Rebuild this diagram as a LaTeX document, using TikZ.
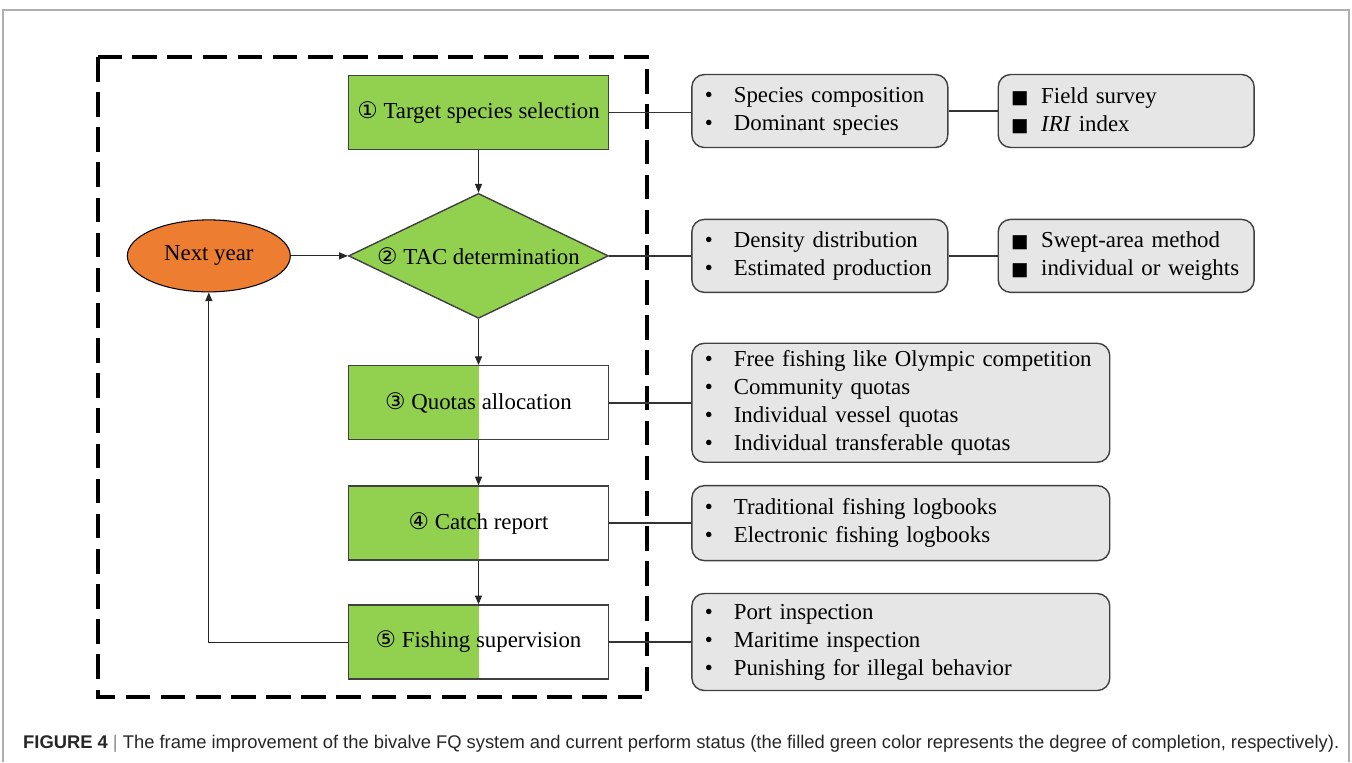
\documentclass[tikz,border=0pt]{standalone}
\usepackage{fontspec}
\setmainfont{Liberation Serif}
\newfontfamily\capfont{Liberation Sans}
\newfontfamily\symfont{DejaVu Sans}
\usepackage{tikz}
\usetikzlibrary{positioning,shapes.geometric,arrows.meta}
\definecolor{donegreen}{RGB}{146, 208, 80}
\definecolor{nextorange}{RGB}{237, 125, 49}
\definecolor{notegray}{RGB}{231, 230, 230}
\definecolor{edgegray}{RGB}{64, 64, 64}
\definecolor{framegray}{RGB}{175, 175, 175}
\newcommand{\cn}[1]{{\symfont #1}}
\newcommand{\itm}{\makebox[0.58cm][l]{\textbullet}}
\newcommand{\sqm}{\makebox[0.6cm][l]{\symfont\fontsize{10.5}{12}\selectfont ■}}

\begin{document}
\begin{tikzpicture}[
  x=0.02cm, y=-0.02cm,
  every node/.style={font=\fontsize{13}{15.9}\selectfont},
  stage/.style={rectangle, draw=edgegray, line width=0.8pt, minimum width=5.2cm,
                minimum height=1.48cm, inner sep=0pt},
  done/.style={stage, fill=donegreen},
  halfdone/.style={stage, fill=white, path picture={\fill[donegreen]
      (path picture bounding box.south west) rectangle (path picture bounding box.north);}},
  decision/.style={diamond, draw=edgegray, line width=0.8pt, fill=donegreen,
                   minimum width=5.2cm, minimum height=2.5cm, inner sep=0pt},
  restart/.style={ellipse, draw=black, line width=0.6pt, fill=nextorange,
                  minimum width=3.26cm, minimum height=1.44cm, inner sep=0pt},
  note/.style={rectangle, rounded corners=0.25cm, draw=edgegray, line width=0.8pt, fill=notegray,
               inner xsep=0.26cm, inner ysep=0pt, text width=4.6cm, align=left, minimum height=1.46cm},
  widenote/.style={note, text width=7.84cm},
  arrow/.style={-{Triangle[length=5pt,width=4pt]}, line width=0.6pt, color=black!85},
  link/.style={line width=1.1pt, color=black!80}
]
\useasboundingbox (0,0) rectangle (1352,762);

% outer figure frame
\draw[framegray, line width=0.6pt] (3,762) -- (3,10) -- (1349,10) -- (1349,762);

% FQ system loop
\draw[line width=2.3pt, dash pattern=on 14pt off 6pt] (98,57) rectangle (647,697);

\node[done] (target) at (478.5,112.5) {\cn{①} Target species selection};
\node[decision, below=0.85cm of target, label=center:{\cn{②} TAC determination}] (tac) {};
\node[halfdone, below=0.92cm of tac] (quota) {\cn{③} Quotas allocation};
\node[halfdone, below=0.9cm of quota] (catch) {\cn{④} Catch report\hspace{0.5cm}};
\node[halfdone, below=0.87cm of catch] (super) {\cn{⑤} Fishing supervision};
\node[restart, left=1.14cm of tac] (next) {Next year};

% details of each step
\node[note, right=1.64cm of target, yshift=0.03cm] (compo) {\itm Species composition\\ \itm Dominant species};
\node[note, right=0.98cm of compo] (survey) {\sqm Field survey\\ \sqm \textit{IRI} index};
\node[note, right=1.64cm of tac] (density) {\itm Density distribution\\ \itm Estimated production};
\node[note, right=0.98cm of density] (swept) {\sqm Swept-area method\\ \sqm individual or weights};
\node[widenote, minimum height=2.38cm, right=1.64cm of quota] (alloc)
  {\itm Free fishing like Olympic competition\\ \itm Community quotas\\
   \itm Individual vessel quotas\\ \itm Individual transferable quotas};
\node[widenote, minimum height=1.5cm, right=1.64cm of catch] (logbook)
  {\itm Traditional fishing logbooks\\ \itm Electronic fishing logbooks};
\node[widenote, minimum height=1.94cm, right=1.64cm of super] (inspect)
  {\itm Port inspection\\ \itm Maritime inspection\\ \itm Punishing for illegal behavior};

\draw[arrow] (target) -- (tac);
\draw[arrow] (tac) -- (quota);
\draw[arrow] (quota) -- (catch);
\draw[arrow] (catch) -- (super);
\draw[arrow] (next) -- (tac);
\draw[arrow] (super.west) -| (next.south);

\draw[link] (target.east) -- (target.east -| compo.west);
\draw[link] (compo) -- (survey);
\draw[link] (tac) -- (density);
\draw[link] (density) -- (swept);
\draw[link] (quota) -- (alloc);
\draw[link] (catch) -- (logbook);
\draw[link] (super) -- (inspect);

\node[anchor=west, font=\capfont\fontsize{10.45}{12}\selectfont, text=black!85] (caption) at (17,744)
  {\textbf{FIGURE 4} {\color{black!45}|} The frame improvement of the bivalve FQ system and current perform status (the filled green color represents the degree of completion, respectively).};
\end{tikzpicture}
\end{document}
